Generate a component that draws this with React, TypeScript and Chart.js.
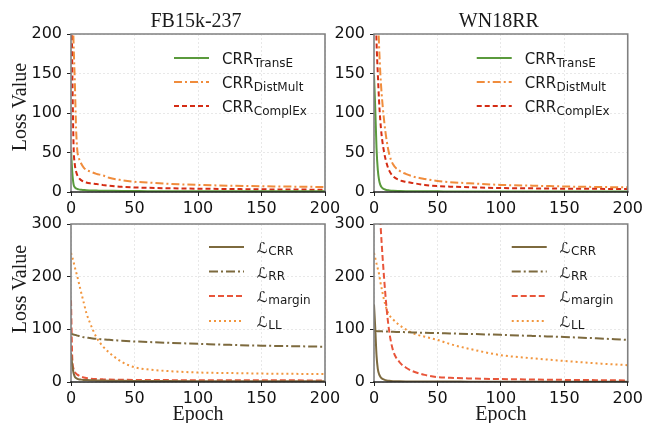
import React, { useEffect, useRef } from "react";
import { Chart, registerables } from "chart.js";
Chart.register(...registerables);

// ---------- data ----------
const EPOCHS = [0, 1, 2, 3, 4, 5, 6, 8, 10, 12, 15, 20, 25, 30, 40, 50, 60, 75, 100, 125, 150, 175, 200];

// FB15k-237, CRR variants
const FB_TRANSE = [53, 25, 10, 6, 4.5, 3.8, 3.3, 2.8, 2.5, 2.2, 2, 1.8, 1.6, 1.5, 1.3, 1.2, 1.1, 1.05, 1, 0.95, 0.9, 0.85, 0.8];
const FB_DISTMULT = [340, 260, 190, 140, 80, 52, 44, 36, 31, 28, 26, 23, 21, 18, 15, 13, 12, 10.5, 9, 8, 7.3, 6.8, 6.3];
const FB_COMPLEX = [320, 160, 60, 35, 26, 21, 18, 15, 13, 12, 11, 10, 9, 8, 6.5, 5.8, 5.3, 4.8, 4.2, 3.8, 3.4, 3.1, 2.9];

// WN18RR, CRR variants
const WN_TRANSE = [148, 105, 55, 28, 15, 9, 6, 3.5, 2.5, 2, 1.5, 1.2, 1, 0.9, 0.8, 0.8, 0.7, 0.7, 0.6, 0.6, 0.5, 0.5, 0.5];
const WN_DISTMULT = [340, 320, 280, 230, 185, 150, 125, 90, 65, 48, 35, 27, 23, 20, 16.5, 14, 12.5, 11, 9, 8, 7, 6.4, 5.9];
const WN_COMPLEX = [330, 260, 190, 150, 115, 90, 72, 50, 36, 27, 20, 15, 13, 11.5, 9, 7.5, 6.8, 6, 5, 4.6, 4.2, 4, 3.8];

// FB15k-237, loss components
const FB_L_CRR = [55, 32, 17, 10, 7.5, 6, 5.2, 4.5, 4, 3.7, 3.3, 3, 2.7, 2.5, 2.2, 2, 1.9, 1.7, 1.5, 1.4, 1.3, 1.25, 1.2];
const FB_L_RR = [92, 91, 90, 89.5, 89, 88, 87.5, 86.5, 85, 84.5, 83.5, 82, 81, 80, 78.5, 77, 76, 74.5, 72.5, 70.5, 69, 68, 67];
const FB_L_MARGIN = [155, 45, 25, 19, 16, 14, 12.5, 10, 8.5, 7.5, 6.5, 5.5, 5, 4.6, 4.3, 4, 3.8, 3.6, 3.4, 3.3, 3.2, 3.1, 3];
const FB_L_LL = [245, 237, 228, 218, 209, 200, 190, 170, 151, 132, 112, 85, 68, 56, 38, 28, 24, 21, 18, 17, 16, 15.5, 15];

// WN18RR, loss components
const WN_L_CRR = [147, 102, 50, 25, 15, 10, 7, 4.5, 3, 2.2, 1.6, 1.3, 1.1, 1, 0.9, 0.8, 0.8, 0.7, 0.7, 0.6, 0.6, 0.6, 0.6];
const WN_L_RR = [97, 96.8, 96.6, 96.5, 96.4, 96.3, 96.2, 96, 95.8, 95.6, 95.3, 95, 94.6, 94.2, 93.5, 93, 92.3, 91.3, 89.5, 87.5, 85.5, 83, 80];
const WN_L_MARGIN = [600, 530, 460, 400, 350, 305, 265, 196, 138, 96, 60, 38, 27.5, 21, 13.5, 9.3, 8, 6.8, 5.5, 4.7, 4, 3.5, 3];
const WN_L_LL = [245, 235, 225, 215, 205, 190, 178, 155, 138, 127, 119, 108, 100, 93, 86, 80, 72, 63, 51, 45, 40, 35.5, 32];

const X_TICK_STEP = 50;
const TITLES = ["FB15k-237", "WN18RR"];
const Y_LABEL = "Loss Value";
const X_LABEL = "Epoch";

// ---------- styles ----------
const GREEN = "#5a9a3c";
const ORANGE_DM = "#f08c3c";
const RED_CX = "#d42c14";
const BROWN = "#7d6a3e";
const MARGIN_C = "#e8553a";
const LL_C = "#f2963e";

const DASH_DM = [8, 3, 2, 3];
const DASH_CX = [5, 3];
const DASH_RR = [9, 3, 2, 3];
const DASH_MARGIN = [6, 3];
const DASH_LL = [2, 3];

const W = 646;
const H = 423;
const SANS = "'DejaVu Sans', sans-serif";
const SERIF = "'Liberation Serif', 'Times New Roman', serif";
const GRID_C = "rgba(0,0,0,0.09)";

type Series = { values: number[]; color: string; dash: number[]; main: string; sub: string };
type PanelSpec = {
  area: [number, number, number, number];
  ymax: number;
  ystep: number;
  series: Series[];
  title?: string;
  ylabelY?: number;
  xlabel?: boolean;
  legend: { s0: number; s1: number; tx: number; rows: number[]; subDy: number; mainDy: number };
};

const topLegend = { s0: -151, s1: -116, tx: -103, rows: [24, 48, 72], subDy: 9, mainDy: 6 };
const botLegend = { s0: -116, s1: -81, tx: -68, rows: [23, 47.5, 72, 97], subDy: 8, mainDy: 6 };

const PANELS: PanelSpec[] = [
  {
    area: [71, 34, 325, 192], ymax: 200, ystep: 50, title: TITLES[0], ylabelY: 107,
    series: [
      { values: FB_TRANSE, color: GREEN, dash: [], main: "CRR", sub: "TransE" },
      { values: FB_DISTMULT, color: ORANGE_DM, dash: DASH_DM, main: "CRR", sub: "DistMult" },
      { values: FB_COMPLEX, color: RED_CX, dash: DASH_CX, main: "CRR", sub: "ComplEx" },
    ],
    legend: topLegend,
  },
  {
    area: [374, 34, 628, 192], ymax: 200, ystep: 50, title: TITLES[1],
    series: [
      { values: WN_TRANSE, color: GREEN, dash: [], main: "CRR", sub: "TransE" },
      { values: WN_DISTMULT, color: ORANGE_DM, dash: DASH_DM, main: "CRR", sub: "DistMult" },
      { values: WN_COMPLEX, color: RED_CX, dash: DASH_CX, main: "CRR", sub: "ComplEx" },
    ],
    legend: topLegend,
  },
  {
    area: [71, 224, 325, 382], ymax: 300, ystep: 100, ylabelY: 289, xlabel: true,
    series: [
      { values: FB_L_CRR, color: BROWN, dash: [], main: "\u2112", sub: "CRR" },
      { values: FB_L_RR, color: BROWN, dash: DASH_RR, main: "\u2112", sub: "RR" },
      { values: FB_L_MARGIN, color: MARGIN_C, dash: DASH_MARGIN, main: "\u2112", sub: "margin" },
      { values: FB_L_LL, color: LL_C, dash: DASH_LL, main: "\u2112", sub: "LL" },
    ],
    legend: botLegend,
  },
  {
    area: [374, 224, 628, 382], ymax: 300, ystep: 100, xlabel: true,
    series: [
      { values: WN_L_CRR, color: BROWN, dash: [], main: "\u2112", sub: "CRR" },
      { values: WN_L_RR, color: BROWN, dash: DASH_RR, main: "\u2112", sub: "RR" },
      { values: WN_L_MARGIN, color: MARGIN_C, dash: DASH_MARGIN, main: "\u2112", sub: "margin" },
      { values: WN_L_LL, color: LL_C, dash: DASH_LL, main: "\u2112", sub: "LL" },
    ],
    legend: botLegend,
  },
];

const X_AXIS_H = 30;

function makeDecor(spec: PanelSpec) {
  return {
    id: "decor",
    afterDatasetsDraw(chart: any) {
      const { ctx, chartArea: a } = chart;
      ctx.save();
      ctx.setLineDash([]);
      ctx.lineWidth = 1.6;
      ctx.strokeStyle = "#808080";
      ctx.beginPath();
      ctx.moveTo(a.left, a.bottom);
      ctx.lineTo(a.left, a.top);
      ctx.lineTo(a.right, a.top);
      ctx.lineTo(a.right, a.bottom);
      ctx.stroke();
      ctx.strokeStyle = "#222";
      ctx.beginPath();
      ctx.moveTo(a.left - 0.8, a.bottom);
      ctx.lineTo(a.right + 0.8, a.bottom);
      ctx.stroke();
      ctx.restore();
    },
    afterDraw(chart: any) {
      const { ctx, chartArea: a } = chart;
      ctx.save();
      const cx = (a.left + a.right) / 2;
      ctx.fillStyle = "#1a1a1a";
      if (spec.title) {
        ctx.font = `20px ${SERIF}`;
        ctx.textAlign = "center";
        ctx.textBaseline = "alphabetic";
        ctx.fillText(spec.title, cx - 2, 27);
      }
      if (spec.ylabelY !== undefined) {
        ctx.save();
        ctx.translate(26, spec.ylabelY);
        ctx.rotate(-Math.PI / 2);
        ctx.font = `20px ${SERIF}`;
        ctx.textAlign = "center";
        ctx.textBaseline = "alphabetic";
        ctx.fillText(Y_LABEL, 0, 0);
        ctx.restore();
      }
      if (spec.xlabel) {
        ctx.font = `20px ${SERIF}`;
        ctx.textAlign = "center";
        ctx.textBaseline = "alphabetic";
        ctx.fillText(X_LABEL, cx, 420);
      }
      // legend
      const lg = spec.legend;
      spec.series.forEach((s, i) => {
        const y = a.top + lg.rows[i];
        ctx.save();
        ctx.strokeStyle = s.color;
        ctx.lineWidth = 2;
        ctx.setLineDash(s.dash);
        ctx.beginPath();
        ctx.moveTo(a.right + lg.s0, y);
        ctx.lineTo(a.right + lg.s1, y);
        ctx.stroke();
        ctx.restore();
        ctx.fillStyle = "#1a1a1a";
        ctx.textAlign = "left";
        ctx.textBaseline = "alphabetic";
        ctx.font = `15px ${SANS}`;
        const tx = a.right + lg.tx;
        ctx.fillText(s.main, tx, y + lg.mainDy);
        const mw = ctx.measureText(s.main).width;
        ctx.font = `12px ${SANS}`;
        ctx.fillText(s.sub, tx + mw + 0.5, y + lg.subDy);
      });
      ctx.restore();
    },
  };
}

function Panel({ spec }: { spec: PanelSpec }) {
  const ref = useRef<HTMLCanvasElement | null>(null);
  useEffect(() => {
    const canvas = ref.current;
    if (!canvas) return;
    const [l, t, r, b] = spec.area;
    const chart = new Chart(canvas, {
      type: "line",
      data: {
        datasets: spec.series.map((s) => ({
          label: s.main + s.sub,
          data: EPOCHS.map((x, i) => ({ x, y: s.values[i] })),
          borderColor: s.color,
          backgroundColor: s.color,
          borderWidth: 2,
          borderDash: s.dash,
          pointRadius: 0,
          fill: false,
          cubicInterpolationMode: "monotone",
        })),
      },
      options: {
        animation: false,
        responsive: false,
        devicePixelRatio: 1,
        events: [],
        layout: { padding: { left: 0, top: t, right: W - r, bottom: H - b - X_AXIS_H } },
        plugins: { legend: { display: false }, tooltip: { enabled: false }, title: { display: false } },
        scales: {
          x: {
            type: "linear",
            min: 0,
            max: 200,
            afterFit: (scale: any) => { scale.height = X_AXIS_H; },
            ticks: { stepSize: X_TICK_STEP, color: "#111", font: { family: SANS, size: 16 }, padding: 3, maxRotation: 0 },
            grid: { color: GRID_C, borderDash: [2, 2], tickColor: "#222", tickLength: 4, lineWidth: 1, tickBorderDash: [] },
            border: { display: false, dash: [2, 2] },
          },
          y: {
            type: "linear",
            min: 0,
            max: spec.ymax,
            afterFit: (scale: any) => { scale.width = l; },
            ticks: { stepSize: spec.ystep, color: "#111", font: { family: SANS, size: 16 }, padding: 5 },
            grid: { color: GRID_C, borderDash: [2, 2], tickColor: "#222", tickLength: 4, lineWidth: 1, tickBorderDash: [] },
            border: { display: false, dash: [2, 2] },
          },
        },
      } as any,
      plugins: [makeDecor(spec)],
    });
    return () => chart.destroy();
  }, [spec]);
  return (
    <canvas
      ref={ref}
      width={W}
      height={H}
      style={{ position: "absolute", left: 0, top: 0, width: W, height: H, display: "block" }}
    />
  );
}

export default function App() {
  return (
    <div style={{ position: "absolute", left: 0, top: 0, width: W, height: H, background: "#fff", overflow: "hidden" }}>
      {PANELS.map((p, i) => (
        <Panel key={i} spec={p} />
      ))}
    </div>
  );
}
